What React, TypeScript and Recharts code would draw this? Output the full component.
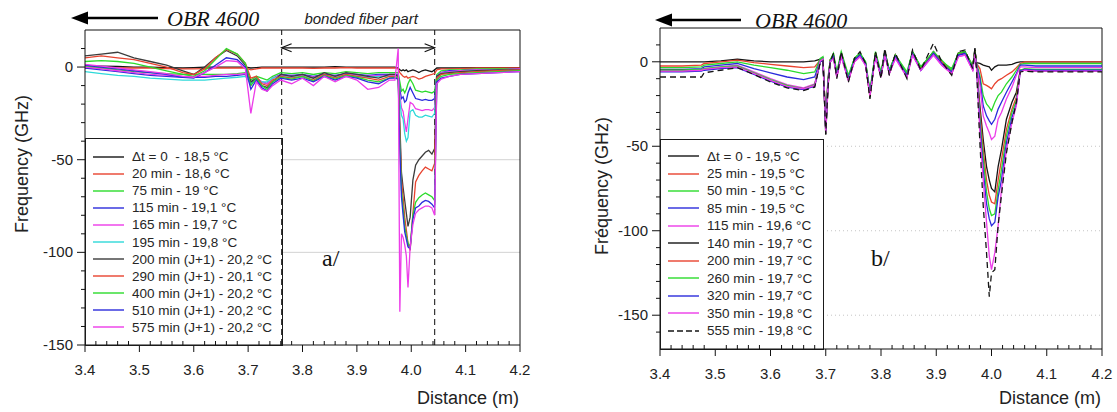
import React from 'react';
import { LineChart, Line, XAxis, YAxis, ReferenceLine } from 'recharts';

// ---- panel a/ : distance grid and series (GHz) ----
const L_DIST = [
  3.40, 3.43, 3.46, 3.49, 3.52, 3.55, 3.58, 3.60, 3.62, 3.64, 3.66, 3.68, 3.695, 3.705, 3.715, 3.725, 3.735, 3.745,
  3.76, 3.78, 3.80, 3.82, 3.84, 3.86, 3.88, 3.90, 3.92, 3.94, 3.96,
  3.970, 3.976, 3.979, 3.982, 3.985, 3.988, 3.991, 3.994, 3.998, 4.003, 4.008, 4.014, 4.020, 4.026, 4.032, 4.038, 4.043, 4.047,
  4.055, 4.07, 4.09, 4.12, 4.16, 4.20,
];

const L_DT0 = [
  0.5, 0.5, 0.3, 0, 0, -0.3, -0.5, -0.3, 0, 0, 0, 0, 0, -0.5, -0.3, 0, 0, 0,
  0, 0, 0, 0, 0, 0.2, 0, 0, 0, 0, 0,
  0, -0.5, -1.5, -2, -1.5, -2, -1.5, -2.5, -2, -1.5, -2, -3, -2, -1.5, -2, -2.5, -1.5, -0.5,
  -0.5, -0.5, -0.5, -0.3, -0.3, -0.3,
];
const L_20 = [
  -0.5, -0.5, -0.5, -0.5, -0.5, -0.8, -1, -1, -0.8, -0.5, -0.5, -0.5, -0.5, -1.5, -1, -0.5, -0.5, -0.5,
  -0.5, -0.5, -0.5, -0.7, -0.5, -0.5, -0.3, -0.5, -0.5, -0.5, -0.5,
  -0.5, -1, -3, -4, -5, -5.5, -5, -6, -5.5, -5, -5.5, -6.5, -6, -5, -4.5, -4, -3.5, -1.5,
  -1, -1, -0.8, -0.5, -0.5, -0.5,
];
const L_75 = [
  0.5, -0.5, -1.5, -2.5, -3, -3.5, -4, -4, -4, -4, -4, -3.5, -3, -7, -5, -6, -7, -5,
  -3, -3.5, -3, -4, -3, -3.5, -2.5, -3, -3.5, -3, -3,
  -3, -3, -8, -13, -12, -14, -12, -9, -6.5, -9, -12.5, -13, -13.5, -13, -13.5, -14, -13, -4,
  -2, -1.5, -1.5, -1, -1, -1,
];
const L_115 = [
  -0.5, -1.5, -2.5, -3.5, -4.5, -5, -5.5, -5.5, -5.5, -5, -5, -4.5, -4, -9, -6, -8, -9, -6,
  -4, -4.5, -4, -5, -4, -4.5, -3.5, -4, -4.5, -4, -4,
  -4, -4, -12, -17, -16, -19, -18, -14, -11, -14, -17, -17.5, -18, -17.5, -18, -18, -17, -5,
  -3, -2, -2, -1.5, -1.5, -1,
];
const L_165 = [
  0, -1, -2, -3, -4, -4.5, -5, -5, -5, -4.5, -4, -4, -3.5, -10, -6, -8, -9, -6,
  -4.5, -5, -4.5, -5.5, -4.5, -5, -4, -4.5, -5, -4.5, -4.5,
  -4.5, -4.5, -15, -22, -24, -30, -35, -28, -19, -20, -22.5, -23, -23.5, -23, -23, -23.5, -22, -6,
  -3, -2.5, -2, -1.5, -1.5, -1,
];
const L_195 = [
  -2.5, -3.5, -4.5, -5, -6, -6.5, -7, -7, -7, -6.5, -6, -5.5, -5, -9, -7, -8, -8, -6,
  -5, -5.5, -5, -6, -5, -5.5, -4.5, -5, -5.5, -5, -5,
  -5, -5, -18, -26, -28, -36, -40, -38, -24, -23, -26, -27, -27, -26, -26.5, -27, -25, -7,
  -3.5, -3, -2.5, -2, -1.5, -1.5,
];
const L_200J = [
  6, 7, 8, 5, 3, 1, -2, -4, 0, 5, 9, 6, 1, -8, -6, -10, -11, -8,
  -4, -5, -4, -6, -3, -5, -3, -4, -5, -6, -4,
  -4, -5, -30, -57, -65, -72, -79, -86, -81, -61, -53, -50, -48, -46, -45, -47, -44, -5,
  -3.5, -3, -2.5, -2, -1.5, -1.5,
];
const L_290J = [
  5, 6, 5, 4, 2, 0, -3, -4, -1, 5, 9.5, 7, 2, -6, -5, -9, -10, -7,
  -5, -6, -5, -7, -4, -6, -4, -5, -6, -7, -5,
  -5, -6, -35, -61, -70, -81, -88, -95, -99, -79, -62, -58.5, -56, -54, -55, -56, -52, -6,
  -4, -3.5, -3, -2.5, -2, -1.5,
];
const L_400J = [
  3, 3.5, 3, 2, 0, -2, -4, -5, -2, 4, 10, 7, 2, -10, -6, -10, -12, -8,
  -5.5, -6.5, -5, -7.5, -4.5, -6.5, -4.5, -5.5, -7, -8, -6,
  -5.5, -6, -40, -66, -76, -86, -91, -95, -97, -80, -73, -70.5, -69, -68, -69, -70, -72, -7,
  -5, -4, -3.5, -3, -2.5, -2,
];
const L_510J = [
  1, 0, -1, -2, -3, -4, -5.5, -6, -3, 1, 5, 4, 0, -12, -7, -11, -13, -9,
  -6, -7, -6, -8, -5, -7, -5, -6, -8, -9, -6,
  -6, -6.5, -45, -70, -80, -89, -93, -97, -98, -82, -76, -75, -73, -72, -72.5, -74, -76, -8,
  -6, -5, -4, -3.5, -3, -2.5,
];
const L_575J = [
  1.5, 0.5, -0.5, -1.5, -2.5, -3.5, -5, -5.5, -3, 0, 3.5, 3, -1, -25, -8, -12, -13, -10,
  -7, -9, -6, -10, -5, -8, -5, -7, -12, -11, -7,
  -7, 10, -132, -90, -92, -96, -102, -119, -97, -85, -79, -77, -76, -75, -75, -76, -80, -9,
  -6.5, -5, -4, -3.5, -3, -2.5,
];

const L_NAMES = [
  'Δt = 0  - 18,5 °C', '20 min - 18,6 °C', '75 min - 19 °C', '115 min - 19,1 °C', '165 min - 19,7 °C',
  '195 min - 19,8 °C', '200 min (J+1) - 20,2 °C', '290 min (J+1) - 20,1 °C', '400 min (J+1) - 20,2 °C',
  '510 min (J+1) - 20,2 °C', '575 min (J+1) - 20,2 °C',
];

// ---- panel b/ ----
const R_DIST = [
  3.40, 3.44, 3.475, 3.48, 3.51, 3.54, 3.57, 3.60, 3.63, 3.66, 3.68, 3.69,
  3.695, 3.700, 3.704, 3.708,
  3.714, 3.720, 3.728, 3.741, 3.752, 3.762, 3.772, 3.780, 3.790, 3.800, 3.807, 3.815, 3.826, 3.847, 3.857, 3.872, 3.895, 3.910, 3.928, 3.940, 3.952, 3.966, 3.970,
  3.973, 3.979, 3.985, 3.991, 3.996, 4.000, 4.006, 4.012, 4.018, 4.027, 4.037, 4.045, 4.052, 4.06, 4.08, 4.11, 4.15, 4.20,
];

const R_DT0 = [
  0, 0, 0, 0, 0.5, 1.5, 0.5, 0, 0, 0, 0.5, 1.5,
  1, -35, -10, 1,
  4, -8, 5, -10, 2, 5, -1, -20, 5, -8, 6, -6, 4, -8, 6, -4, 5, 0, -6, 5, 6, -3, 7,
  -0.5, -1, -2, -2.5, -3, -5, -3, -2, -2, -2, -1.5, -0.5, 0, 0, 0, 0, 0, 0,
];
const R_25 = [
  -2.5, -2.5, -2, -1, 0, 1, -0.5, -1.5, -2.5, -3.5, -3, 1,
  2, -36, -12, 0,
  3, -7, 4, -9, 1, 4, -1, -18, 4, -7, 5, -5, 3, -7, 5, -4, 5, -1, -5, 4, 5, -3, 6,
  -1, -4, -13, -14, -15, -16, -13, -11, -10, -8, -6, -3.5, -1, 0, 0, 0, 0, 0,
];
const R_50 = [
  -3.5, -3.5, -3, -2, -1, 0, -2, -3.5, -5, -7, -6, 2,
  3, -38, -12, 1,
  5, -6, 6, -8, 2, 5, 0, -17, 6, -6, 6, -5, 4, -6, 6, -3, 6, 0, -4, 5, 6, -2, 6,
  -1, -8, -20, -25, -27, -29, -24, -20, -18, -13, -9, -5, -1.5, -1, -1, -1, -1, -1,
];
const R_85 = [
  -4.5, -4.5, -4, -3, -2, -1, -4, -6.5, -9, -10.5, -9, 1,
  2, -38, -13, 0,
  3, -8, 4, -10, 1, 4, -2, -19, 4, -8, 5, -6, 3, -8, 5, -5, 5, -1, -6, 4, 5, -4, 5,
  -1.5, -10, -26, -32, -35, -37, -34, -28, -24, -18, -12, -7, -2, -2, -2.5, -2.5, -2.5, -2.5,
];
const R_115 = [
  -5, -5, -4.5, -4, -3, -2, -6, -10, -13.5, -15.5, -13, 0,
  1, -40, -14, 0,
  2, -9, 3, -11, 0, 3, -2, -19, 3, -9, 4, -7, 2, -9, 4, -5, 4, -2, -7, 3, 4, -5, 5,
  -2, -14, -32, -38, -42, -46, -44, -34, -30, -22, -15, -8, -3, -3, -3.5, -3.5, -3.5, -3.5,
];
const R_140 = [
  -5, -5, -5, -4.5, -3.5, -3, -7, -11, -14.5, -16, -14, 0,
  1, -43, -15, 0,
  4, -9, 5, -11, 1, 5, -1, -21, 5, -9, 6, -7, 4, -9, 6, -4, 6, 0, -7, 5, 6, -4, 8,
  -3, -26, -46, -62, -70, -75, -77, -62, -52, -34, -24, -18, -5, -5, -5.5, -5.5, -5.5, -5.5,
];
const R_200 = [
  -5.5, -5.5, -5, -4.5, -3.5, -3, -7, -11, -14.5, -16.5, -14, 0.5,
  1.5, -40, -14, 1,
  3, -8, 5, -10, 1, 4, -1, -20, 5, -8, 6, -6, 4, -8, 5, -4, 5, 0, -6, 5, 5, -3, 6,
  -3, -30, -52, -70, -79, -83, -84, -70, -58, -40, -28, -21, -5, -4.5, -5, -5, -5, -5,
];
const R_260 = [
  -5, -5, -4.5, -4, -3, -2.5, -6.5, -10.5, -14, -16, -13.5, 1,
  2, -40, -13, 1,
  4, -7, 5, -9, 2, 5, 0, -18, 5, -7, 6, -5, 4, -7, 6, -3, 6, 1, -5, 5, 6, -3, 6,
  -3, -34, -57, -77, -87, -91, -90, -76, -64, -44, -30, -23, -5, -4, -4.5, -4.5, -4.5, -4.5,
];
const R_320 = [
  -6, -6, -5.5, -5, -4, -3.5, -7.5, -11.5, -15, -16.5, -14.5, 0,
  1, -41, -14, 0,
  3, -8, 4, -10, 1, 4, -1, -19, 4, -8, 5, -6, 3, -8, 5, -5, 5, -1, -6, 4, 5, -4, 5,
  -3, -37, -64, -84, -93, -97, -95, -80, -70, -48, -33, -25, -5.5, -4.5, -5, -5, -5, -5,
];
const R_350 = [
  -5.5, -5.5, -5, -4.5, -3.5, -3, -7, -11, -14.5, -16, -14, 0.5,
  1.5, -42, -15, 0,
  2, -9, 3, -11, 0, 3, -2, -20, 3, -9, 4, -7, 2, -9, 4, -5, 4, -2, -7, 3, 4, -5, 5,
  -3.5, -42, -70, -95, -115, -123, -113, -97, -75.5, -52, -36, -26, -6, -5, -5.5, -5.5, -5.5, -5.5,
];
const R_555 = [
  -9, -9, -9, -6.5, -5, -3.5, -7.5, -12, -15.5, -17, -15, -0.5,
  0.5, -43, -16, 0,
  5, -10, 6, -12, 2, 6, -1, -22, 6, -10, 8, -8, 5, -10, 7, -5, 11, 0, -8, 6, 7, -4, 8,
  -5, -48, -85, -113, -139, -125, -123, -97, -79, -54, -36, -24, -6, -5.5, -6, -6, -6, -6,
];

const R_NAMES = [
  'Δt = 0 - 19,5 °C', '25 min - 19,5 °C', '50 min - 19,5 °C', '85 min - 19,5 °C', '115 min - 19,6 °C',
  '140 min - 19,7 °C', '200 min - 19,7 °C', '260 min - 19,7 °C', '320 min - 19,7 °C', '350 min - 19,8 °C',
  '555 min - 19,8 °C',
];

// ---- ticks ----
const X_MAJOR = [3.4, 3.5, 3.6, 3.7, 3.8, 3.9, 4.0, 4.1, 4.2];
const X_MINOR = [
  3.42, 3.44, 3.46, 3.48, 3.52, 3.54, 3.56, 3.58, 3.62, 3.64, 3.66, 3.68, 3.72, 3.74, 3.76, 3.78,
  3.82, 3.84, 3.86, 3.88, 3.92, 3.94, 3.96, 3.98, 4.02, 4.04, 4.06, 4.08, 4.12, 4.14, 4.16, 4.18,
];
const Y_MAJOR = [0, -50, -100, -150];
const L_Y_MINOR = [10, -10, -20, -30, -40, -60, -70, -80, -90, -110, -120, -130, -140];
const R_Y_MINOR = [10, -10, -20, -30, -40, -60, -70, -80, -90, -110, -120, -130, -140, -160];

const FONT = '"Liberation Sans", Arial, sans-serif';
const SERIF = '"Liberation Serif", "Times New Roman", serif';

const BLACK = '#151515';
const GRAY = '#3c3c3c';
const RED = '#e8432f';
const GREEN = '#2bdb2b';
const BLUE = '#2b2bdc';
const MAGENTA = '#ec3ce9';
const CYAN = '#2ed9d9';

const L_COLORS = [BLACK, RED, GREEN, BLUE, MAGENTA, CYAN, GRAY, RED, GREEN, BLUE, MAGENTA];
const R_COLORS = [BLACK, RED, GREEN, BLUE, MAGENTA, BLACK, RED, GREEN, BLUE, MAGENTA, BLACK];
const L_DASH = L_COLORS.map(() => undefined);
const R_DASH = R_COLORS.map((_, i) => (i === 10 ? '6 4' : undefined));

const buildRows = (dist: number[], series: number[][]) =>
  dist.map((x, i) => {
    const row: any = { x };
    series.forEach((s, k) => (row['s' + k] = s[i]));
    return row;
  });

const L_ROWS = buildRows(L_DIST, [L_DT0, L_20, L_75, L_115, L_165, L_195, L_200J, L_290J, L_400J, L_510J, L_575J]);
const R_ROWS = buildRows(R_DIST, [R_DT0, R_25, R_50, R_85, R_115, R_140, R_200, R_260, R_320, R_350, R_555]);

const X_TICKS = [...X_MAJOR, ...X_MINOR].sort((a, b) => a - b);
const isMajor = (list: number[], v: number) => list.some((m) => Math.abs(m - v) < 1e-6);

const XTick = (props: any) => {
  const { x, y, payload } = props;
  const major = isMajor(X_MAJOR, payload.value);
  return (
    <g>
      <line x1={x} x2={x} y1={y} y2={major ? y + 7 : y - 4} stroke="#111" />
      {major && (
        <text x={x} y={y + 30} textAnchor="middle" fontSize={15} fill="#222" fontFamily={FONT}>
          {payload.value.toFixed(1)}
        </text>
      )}
    </g>
  );
};

const YTick = (props: any) => {
  const { x, y, payload } = props;
  const major = isMajor(Y_MAJOR, payload.value);
  return (
    <g>
      <line x1={x - (major ? 8 : 4)} x2={x} y1={y} y2={y} stroke="#111" />
      {major && (
        <text x={x - 12} y={y + 5} textAnchor="end" fontSize={15} fill="#222" fontFamily={FONT}>
          {payload.value}
        </text>
      )}
    </g>
  );
};

const BondedArrow = (p: any) => {
  const { x1, y1, x2, y2 } = p;
  return (
    <g>
      <line x1={x1} y1={y1} x2={x2} y2={y2} stroke="#111" strokeWidth={1.2} />
      <polyline points={`${x1 + 10},${y1 - 4} ${x1},${y1} ${x1 + 10},${y1 + 4}`} fill="none" stroke="#111" strokeWidth={1.2} />
      <polyline points={`${x2 - 10},${y2 - 4} ${x2},${y2} ${x2 - 10},${y2 + 4}`} fill="none" stroke="#111" strokeWidth={1.2} />
      <text x={(x1 + x2) / 2 + 3} y={y1 - 24} textAnchor="middle" fontSize={15} fontStyle="italic" fill="#222" fontFamily={FONT}>
        bonded fiber part
      </text>
    </g>
  );
};

type PanelProps = {
  x0: number;
  w: number;
  top: number;
  xAxisH: number;
  yAxisW: number;
  right: number;
  rows: any[];
  colors: string[];
  dashes: (string | undefined)[];
  yDomain: [number, number];
  yTicks: number[];
  extras: React.ReactNode;
};

const Panel = ({ x0, w, top, xAxisH, yAxisW, right, rows, colors, dashes, yDomain, yTicks, extras }: PanelProps) => (
  <div style={{ position: 'absolute', left: x0, top: 0 }}>
    <LineChart width={w} height={412} data={rows} margin={{ top, right, bottom: 0, left: 0 }}>
      <XAxis
        dataKey="x"
        type="number"
        domain={[3.4, 4.2]}
        ticks={X_TICKS}
        interval={0}
        tickSize={0}
        tickMargin={0}
        tickLine={false}
        tick={(p: any) => <XTick {...p} />}
        height={xAxisH}
        axisLine={{ stroke: '#111' }}
        allowDataOverflow
      />
      <YAxis
        type="number"
        domain={yDomain}
        ticks={yTicks}
        interval={0}
        tickSize={0}
        tickMargin={0}
        tickLine={false}
        tick={(p: any) => <YTick {...p} />}
        width={yAxisW}
        axisLine={{ stroke: '#111' }}
        allowDataOverflow
      />
      {extras}
      <ReferenceLine y={yDomain[1]} stroke="#111" />
      <ReferenceLine x={4.2} stroke="#111" />
      {colors.map((c, i) => (
        <Line
          key={i}
          type="linear"
          dataKey={'s' + i}
          stroke={c}
          strokeWidth={1.3}
          strokeDasharray={dashes[i]}
          dot={false}
          activeDot={false}
          isAnimationActive={false}
        />
      ))}
    </LineChart>
  </div>
);

type LegendProps = {
  left: number;
  top: number;
  width: number;
  height: number;
  names: string[];
  colors: string[];
  dashes: (string | undefined)[];
  rowH: number;
  padTop: number;
};

const LegendBox = ({ left, top, width, height, names, colors, dashes, rowH, padTop }: LegendProps) => (
  <div style={{ position: 'absolute', left, top, width, height, border: '1px solid #1a1a1a', boxSizing: 'border-box' }}>
    {names.map((n, i) => (
      <div
        key={i}
        style={{ position: 'absolute', left: 0, top: padTop + i * rowH, height: rowH, display: 'flex', alignItems: 'center', whiteSpace: 'pre' }}
      >
        <svg width={31} height={4} style={{ marginLeft: 7 }}>
          <line x1={0} x2={31} y1={2} y2={2} stroke={colors[i]} strokeWidth={1.4} strokeDasharray={dashes[i] ? '6 3' : undefined} />
        </svg>
        <span style={{ marginLeft: 8, fontSize: 13.5, color: '#262626', fontFamily: FONT }}>{n}</span>
      </div>
    ))}
  </div>
);

export default function App() {
  const leftExtras = [
    <ReferenceLine key="g1" segment={[{ x: 3.7616, y: -50 }, { x: 4.2, y: -50 }]} stroke="#d2d2d2" />,
    <ReferenceLine key="g2" segment={[{ x: 3.7616, y: -100 }, { x: 4.2, y: -100 }]} stroke="#d2d2d2" />,
    <ReferenceLine key="d1" x={3.7616} stroke="#333" strokeDasharray="6 4" strokeWidth={1.2} />,
    <ReferenceLine key="d2" x={4.043} stroke="#333" strokeDasharray="6 4" strokeWidth={1.2} />,
    <ReferenceLine
      key="arr"
      segment={[{ x: 3.7616, y: 10.4 }, { x: 4.043, y: 10.4 }]}
      shape={(p: any) => <BondedArrow {...p} />}
    />,
  ];
  const rightExtras = [-50, -100, -150].map((v) => (
    <ReferenceLine key={v} segment={[{ x: 3.695, y: v }, { x: 4.2, y: v }]} stroke="#c4c4c4" strokeDasharray="1 3" />
  ));

  return (
    <div style={{ position: 'absolute', left: 0, top: 0, width: 1117, height: 412, background: '#fff', overflow: 'hidden' }}>
      <Panel
        x0={0}
        w={560}
        top={30}
        xAxisH={67}
        yAxisW={85}
        right={40}
        rows={L_ROWS}
        colors={L_COLORS}
        dashes={L_DASH}
        yDomain={[-150, 20]}
        yTicks={[...Y_MAJOR, ...L_Y_MINOR]}
        extras={leftExtras}
      />
      <Panel
        x0={560}
        w={557}
        top={28}
        xAxisH={63}
        yAxisW={100}
        right={15}
        rows={R_ROWS}
        colors={R_COLORS}
        dashes={R_DASH}
        yDomain={[-170, 20]}
        yTicks={[...Y_MAJOR, ...R_Y_MINOR]}
        extras={rightExtras}
      />
      <LegendBox left={85} top={138} width={198} height={208} names={L_NAMES} colors={L_COLORS} dashes={L_DASH} rowH={17.06} padTop={9.2} />
      <LegendBox left={660} top={139} width={164} height={211} names={R_NAMES} colors={R_COLORS} dashes={R_DASH} rowH={17.47} padTop={7.3} />
      <svg width={1117} height={412} style={{ position: 'absolute', left: 0, top: 0, pointerEvents: 'none' }}>
        <line x1={84} y1={18} x2={158} y2={18} stroke="#000" strokeWidth={2.5} />
        <polygon points="71,18 88,11.5 88,24.5" fill="#000" />
        <text x={167} y={26} fontFamily={SERIF} fontStyle="italic" fontSize={22} fill="#111">OBR 4600</text>
        <line x1={668} y1={20} x2={741} y2={20} stroke="#000" strokeWidth={2.5} />
        <polygon points="655,20 672,13.5 672,26.5" fill="#000" />
        <text x={755} y={28} fontFamily={SERIF} fontStyle="italic" fontSize={22} fill="#111">OBR 4600</text>
        <text transform="translate(28,164) rotate(-90)" textAnchor="middle" fontFamily={FONT} fontSize={18} fill="#222">Frequency (GHz)</text>
        <text transform="translate(608,186) rotate(-90)" textAnchor="middle" fontFamily={FONT} fontSize={18} fill="#222">Fréquency (GHz)</text>
        <text x={519} y={404} textAnchor="end" fontFamily={FONT} fontSize={18} fill="#222">Distance (m)</text>
        <text x={1101} y={404} textAnchor="end" fontFamily={FONT} fontSize={18} fill="#222">Distance (m)</text>
        <text x={322} y={266} fontFamily={SERIF} fontSize={24} fill="#111">a/</text>
        <text x={871} y={266} fontFamily={SERIF} fontSize={24} fill="#111">b/</text>
      </svg>
    </div>
  );
}
